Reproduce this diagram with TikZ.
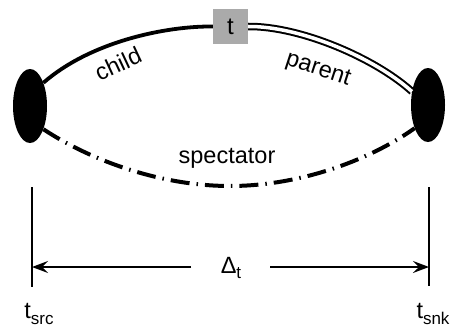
\documentclass[tikz,border=0pt]{standalone}
\usepackage{fontspec}
\setmainfont{Liberation Sans}
\usetikzlibrary{shapes.geometric,arrows.meta}
\newcommand{\subtxt}[1]{\raisebox{-0.45ex}{\fontsize{17}{17}\selectfont #1}}
\begin{document}
\begin{tikzpicture}[x=1pt,y=-1pt,
  blob/.style={ellipse,fill=black,minimum width=34pt,minimum height=74pt,inner sep=0pt},
  tbox/.style={fill={rgb,255:red,170;green,170;blue,170},minimum size=35pt,inner sep=0pt,font=\fontsize{24}{28}\selectfont},
  lbl/.style={font=\fontsize{23.5}{28}\selectfont,inner sep=0pt},
  childline/.style={line width=3.8pt},
  parentline/.style={double,line width=2pt,double distance=3.5pt},
  specline/.style={line width=4pt,dash pattern=on 19pt off 7pt on 1.5pt off 7pt},
  tick/.style={line width=1.6pt},
  span/.style={line width=1.6pt,-{Stealth[length=16pt,width=12pt,inset=6pt]}}]
\useasboundingbox (0,0) rectangle (454,329);
\node[blob] (L) at (30,106) {};
\node[blob] (R) at (428,105) {};
\node[tbox] (T) at (230.5,26.5) {t};
\draw[childline] (L.60) .. controls (90,42) and (165,26) .. (T.west);
\draw[parentline] (T.east) .. controls (300,26) and (375,58) .. (R.140);
\coordinate (mid) at (230,186);
\draw[specline] (L.-60) .. controls (90,160) and (160,186) .. (mid)
  .. controls (300,186) and (370,160) .. (R.-120);
\node[lbl,rotate=25] (child) at (118,64) {child};
\node[lbl,rotate=-18] (parent) at (318,70) {parent};
\node[lbl] (spec) at (227,158) {spectator};
\coordinate (a1) at (32,187);
\coordinate (a2) at (32,287);
\coordinate (b1) at (429,187);
\coordinate (b2) at (429,286);
\draw[tick] (a1) -- (a2);
\draw[tick] (b1) -- (b2);
\node[lbl] (D) at (231,268) {Δ\subtxt{t}};
\coordinate (sl) at (32,267);
\coordinate (sr) at (429,267);
\coordinate (dl) at (191,267);
\coordinate (dr) at (270,267);
\draw[span] (dl) -- (sl);
\draw[span] (dr) -- (sr);
\node[lbl] (tsrc) at (39,314) {t\subtxt{src}};
\node[lbl] (tsnk) at (433,314) {t\subtxt{snk}};
\end{tikzpicture}
\end{document}
